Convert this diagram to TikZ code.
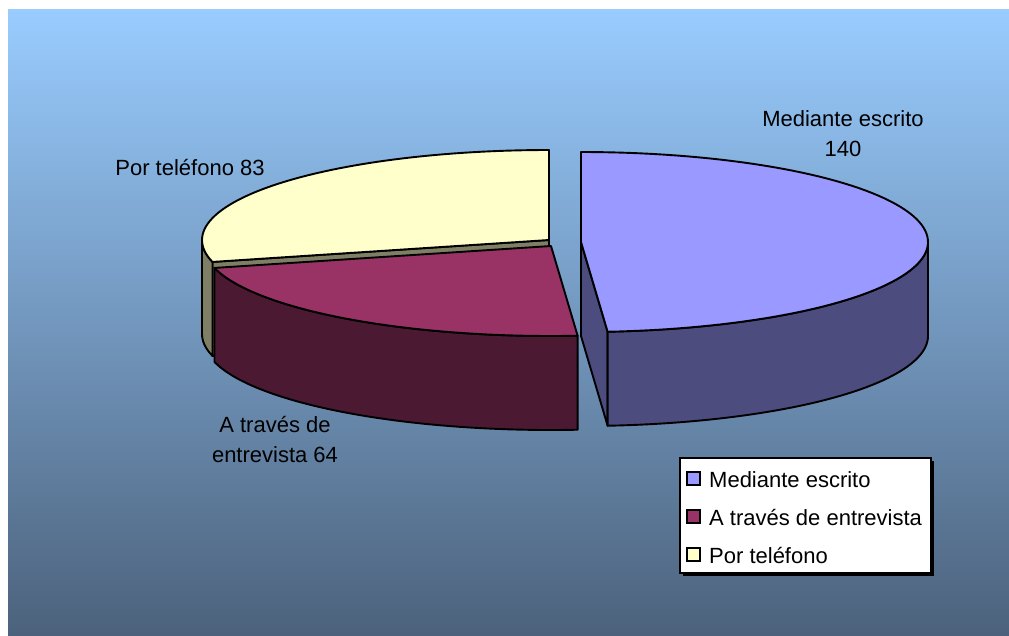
\documentclass[tikz,border=0pt]{standalone}
\usepackage{fontspec}
\setmainfont{Liberation Sans}
\definecolor{bgtop}{RGB}{153,204,255}
\definecolor{bgbot}{RGB}{76,98,124}
\definecolor{blueTop}{RGB}{153,153,255}
\definecolor{blueSide}{RGB}{76,76,127}
\definecolor{maroonTop}{RGB}{153,51,102}
\definecolor{maroonSide}{RGB}{76,25,51}
\definecolor{yelTop}{RGB}{255,255,204}
\definecolor{yelSide}{RGB}{127,127,102}
\begin{document}
\begin{tikzpicture}[x=1pt,y=-1pt,
  face/.style={draw=black,line width=1.9pt,line join=round},
  lbl/.style={font=\fontsize{22}{30}\selectfont,inner sep=0pt,text=black,align=center},
  legtxt/.style={font=\fontsize{22}{30}\selectfont,inner sep=0pt,text=black,anchor=base west},
  legsq/.style={draw=black,line width=1.5pt}]
\useasboundingbox (0,0) rectangle (1009,635);
\fill[white] (0,0) rectangle (1009,635);
\shade[top color=bgtop,bottom color=bgbot] (8,9) rectangle (1009,635);

% ---------- yellow slice (Por telefono) ----------
\draw[face,fill=yelSide] (549,240) -- ({549+347*cos(194.1)},{240-90*sin(194.1)}) -- ({549+347*cos(194.1)},{334-90*sin(194.1)}) -- (549,334) -- cycle;
\draw[face,fill=yelSide] plot[domain=180:194.1,samples=10] ({549+347*cos(\x)},{240-90*sin(\x)}) -- plot[domain=194.1:180,samples=10] ({549+347*cos(\x)},{334-90*sin(\x)}) -- cycle;
\draw[face,fill=yelTop] (549,240) -- plot[domain=90:194.1,samples=60] ({549+347*cos(\x)},{240-90*sin(\x)}) -- cycle;

% ---------- maroon slice (A traves de entrevista) ----------
\draw[face,fill=maroonSide] plot[domain=194.1:274.4,samples=50] ({551+347*cos(\x)},{246-90*sin(\x)}) -- plot[domain=274.4:194.1,samples=50] ({551+347*cos(\x)},{340-90*sin(\x)}) -- cycle;
\draw[face,fill=maroonTop] (551,246) -- plot[domain=194.1:274.4,samples=50] ({551+347*cos(\x)},{246-90*sin(\x)}) -- cycle;

% ---------- blue slice (Mediante escrito) ----------
\draw[face,fill=blueSide] (581,242) -- ({581+347*cos(274.4)},{242-90*sin(274.4)}) -- ({581+347*cos(274.4)},{336-90*sin(274.4)}) -- (581,336) -- cycle;
\draw[face,fill=blueSide] plot[domain=274.4:360,samples=50] ({581+347*cos(\x)},{242-90*sin(\x)}) -- plot[domain=360:274.4,samples=50] ({581+347*cos(\x)},{336-90*sin(\x)}) -- cycle;
\draw[face,fill=blueTop] (581,242) -- plot[domain=274.4:450,samples=90] ({581+347*cos(\x)},{242-90*sin(\x)}) -- cycle;

% ---------- data labels ----------
\node[lbl,anchor=base] (lblY) at (190,175) {Por teléfono 83};
\node[lbl,anchor=south] (lblB) at (843,157) {Mediante escrito\\140};
\node[lbl,anchor=south] (lblM) at (275,463) {A través de\\entrevista 64};

% ---------- legend ----------
\fill[black] (683,461) rectangle (934,576);
\draw[fill=white,draw=black,line width=1.5pt] (680,458) rectangle (931,573);
\draw[legsq,fill=blueTop] (687,472) rectangle (700,485);
\draw[legsq,fill=maroonTop] (687,510) rectangle (700,523);
\draw[legsq,fill=yelTop] (687,548) rectangle (700,561);
\node[legtxt] (legB) at (709,487) {Mediante escrito};
\node[legtxt] (legM) at (709,525) {A través de entrevista};
\node[legtxt] (legY) at (709,563) {Por teléfono};
\end{tikzpicture}
\end{document}
